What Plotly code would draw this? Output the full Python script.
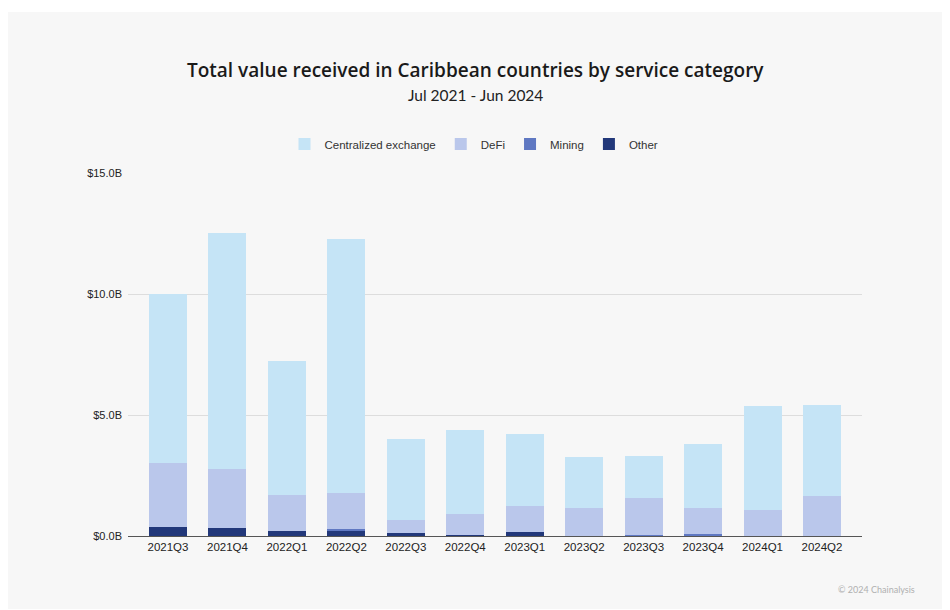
import plotly.graph_objects as go

quarters = ["2021Q3", "2021Q4", "2022Q1", "2022Q2", "2022Q3", "2022Q4",
            "2023Q1", "2023Q2", "2023Q3", "2023Q4", "2024Q1", "2024Q2"]
# values in $ billions
centralized_exchange = [6.97, 9.75, 5.52, 10.48, 3.35, 3.49, 2.97, 2.11, 1.75, 2.63, 4.30, 3.74]
defi = [2.67, 2.45, 1.50, 1.52, 0.53, 0.85, 1.06, 1.12, 1.52, 1.08, 1.06, 1.67]
mining = [0.0, 0.0, 0.0, 0.04, 0.0, 0.0, 0.0, 0.0, 0.01, 0.08, 0.0, 0.0]
other = [0.36, 0.32, 0.21, 0.23, 0.13, 0.04, 0.18, 0.02, 0.03, 0.01, 0.01, 0.0]

y_tick_vals = [0, 5, 10, 15]
y_tick_text = ["$0.0B", "$5.0B", "$10.0B", "$15.0B"]

colors = {
    "Centralized exchange": "#c5e4f6",
    "DeFi": "#bac7eb",
    "Mining": "#5f78c2",
    "Other": "#22387a",
}

fig = go.Figure()
for name, vals in [("Other", other), ("Mining", mining), ("DeFi", defi),
                   ("Centralized exchange", centralized_exchange)]:
    fig.add_trace(go.Bar(x=quarters, y=vals, name=name,
                         marker=dict(color=colors[name], line=dict(width=0))))

# page body has an 8px margin; compensate so window coordinates match
OFF = 8
W, H = 950, 610
L = 128 - OFF
T = 173 - OFF
R = W - (862 - OFF)
B = H - (536 - OFF)
pw, ph = W - L - R, H - T - B


def px_x(p):
    return (p - OFF - L) / pw


def px_y(p):
    return (H - B - (p - OFF)) / ph


fig.add_shape(type="rect", xref="paper", yref="paper",
              x0=px_x(7), x1=px_x(942), y0=px_y(609), y1=px_y(12),
              fillcolor="#f7f7f7", line=dict(width=0), layer="below")

fig.add_annotation(text="Total value received in Caribbean countries by service category",
                   xref="paper", yref="paper", x=px_x(475), y=px_y(70),
                   showarrow=False, xanchor="center", yanchor="middle",
                   font=dict(family="Open Sans", size=19, weight=600, color="#1a1a1a"))
fig.add_annotation(text="Jul 2021 - Jun 2024",
                   xref="paper", yref="paper", x=px_x(475), y=px_y(95),
                   showarrow=False, xanchor="center", yanchor="middle",
                   font=dict(family="Lato", size=15.5, color="#222222"))
fig.add_annotation(text="© 2024 Chainalysis",
                   xref="paper", yref="paper", x=px_x(917), y=px_y(589),
                   showarrow=False, xanchor="right", yanchor="middle",
                   font=dict(family="Lato", size=9, color="#b0b0b0"))

fig.update_layout(
    width=W, height=H,
    margin=dict(l=L, r=R, t=T, b=B, pad=0),
    paper_bgcolor="white",
    plot_bgcolor="#f7f7f7",
    barmode="stack",
    bargap=0.36,
    showlegend=True,
    legend=dict(orientation="h", x=px_x(474), xanchor="center",
                y=px_y(144), yanchor="middle", traceorder="reversed",
                itemwidth=30,
                font=dict(family="Liberation Sans, Arial", size=11.5, color="#333333"),
                bgcolor="rgba(0,0,0,0)", itemclick=False),
    font=dict(family="Liberation Sans, Arial", color="#333333"),
    xaxis=dict(type="category", range=[-0.673, 11.673], showgrid=False,
               showline=True, linecolor="#555555", linewidth=1,
               ticks="", tickfont=dict(size=11.5, color="#222222"),
               fixedrange=True),
    yaxis=dict(range=[0, 15], tickvals=y_tick_vals, ticktext=y_tick_text,
               showgrid=True, gridcolor="#dddddd", gridwidth=1,
               zeroline=False, showline=False, ticks="",
               ticklabelstandoff=5,
               tickfont=dict(size=11, color="#222222"), fixedrange=True),
)

fig.write_html("out.html")
